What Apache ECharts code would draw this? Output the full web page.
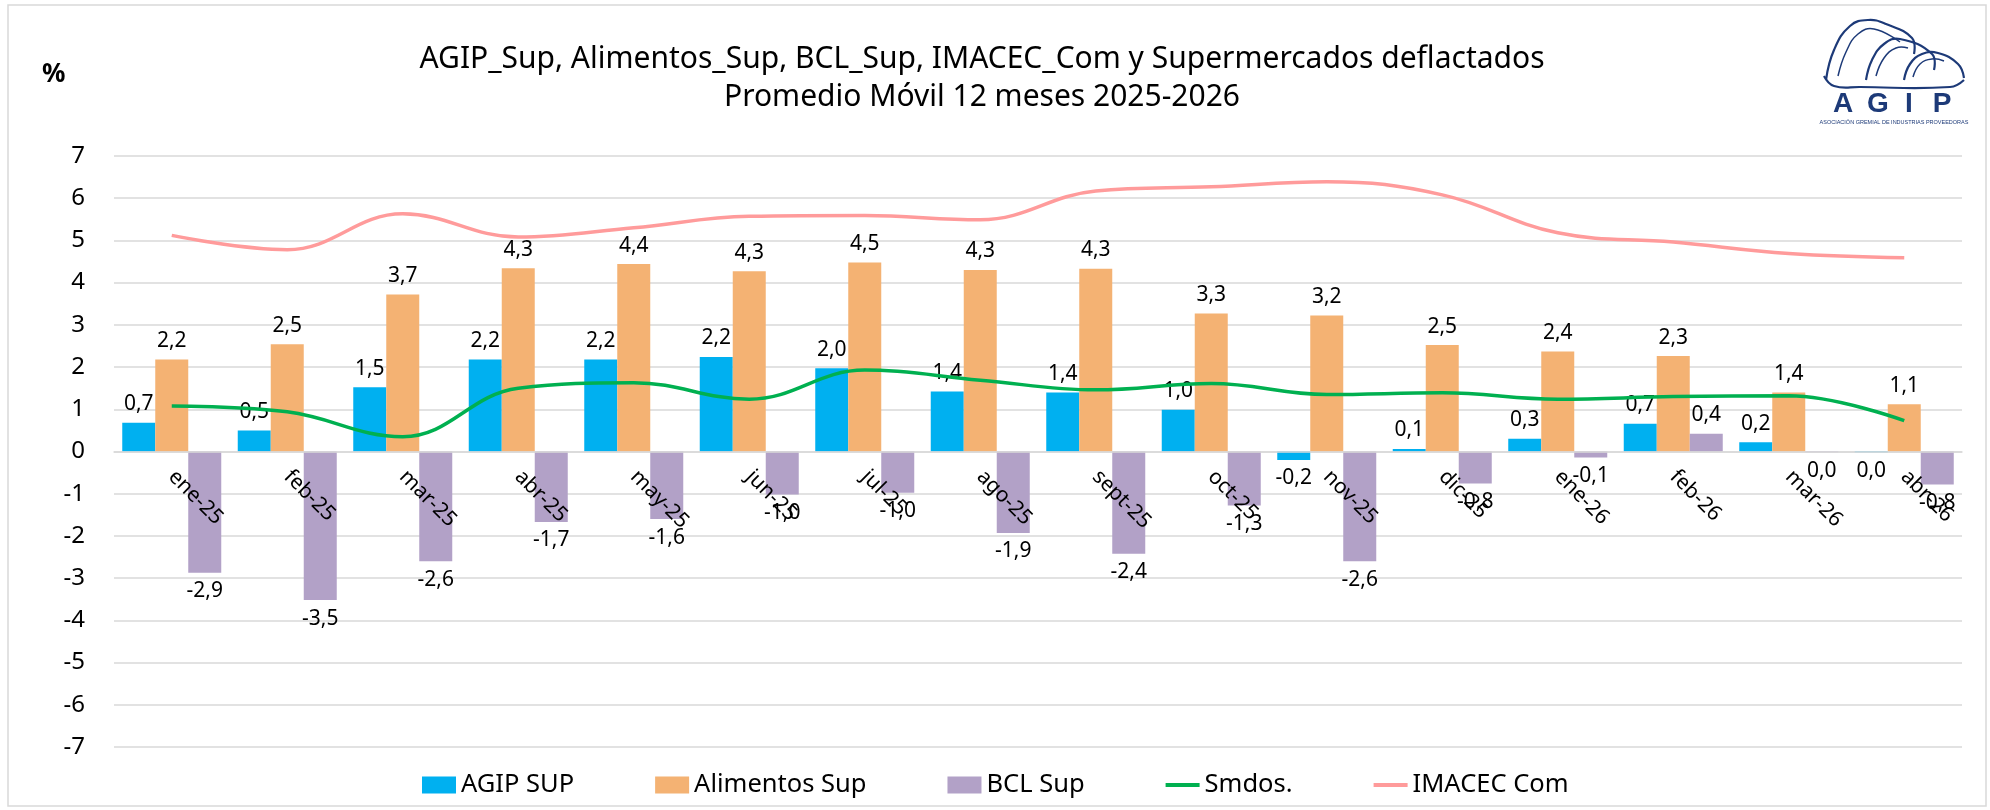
<!DOCTYPE html>
<html>
<head>
<meta charset="utf-8">
<script src="https://cdn.jsdelivr.net/npm/echarts@6/dist/echarts.min.js"></script>
<style>
  html, body { margin: 0; padding: 0; background: #fff; }
  #chart { width: 1990px; height: 810px; }
</style>
</head>
<body>
<div id="chart"></div>
<script>
// datos
const meses = ["ene-25", "feb-25", "mar-25", "abr-25", "may-25", "jun-25", "jul-25", "ago-25",
  "sept-25", "oct-25", "nov-25", "dic-25", "ene-26", "feb-26", "mar-26", "abr-26"];
const agipSup = [0.68, 0.5, 1.52, 2.18, 2.18, 2.24, 1.97, 1.42, 1.4, 0.99, -0.2, 0.06, 0.3, 0.66, 0.22, -0.02];
const alimentosSup = [2.18, 2.54, 3.72, 4.34, 4.44, 4.27, 4.48, 4.3, 4.33, 3.27, 3.22, 2.52, 2.37, 2.26, 1.4, 1.12];
const bclSup = [-2.87, -3.52, -2.6, -1.67, -1.6, -1.02, -0.98, -1.93, -2.42, -1.28, -2.6, -0.76, -0.14, 0.42, -0.02, -0.78];
const smdos = [1.08, 0.94, 0.35, 1.5, 1.63, 1.24, 1.93, 1.69, 1.46, 1.61, 1.35, 1.39, 1.24, 1.3, 1.32, 0.73];
const imacecCom = [5.12, 4.78, 5.63, 5.08, 5.3, 5.57, 5.59, 5.49, 6.17, 6.27, 6.39, 6.08, 5.18, 4.96, 4.69, 4.59];
const yTicks = { min: -7, max: 7, step: 1 };

const FONT = "'Noto Sans', 'Open Sans', sans-serif";

function fmt(v) {
  if (Math.abs(v) < 0.05) return "0,0";
  return v.toFixed(1).replace(".", ",");
}

function barData(arr) {
  return arr.map(v => ({
    value: v,
    label: { position: v < 0 ? "bottom" : "top" }
  }));
}

function barSerie(name, arr, color) {
  return {
    name: name,
    type: "bar",
    barWidth: 33,
    barGap: "0%",
    itemStyle: { color: color },
    label: {
      show: true,
      distance: 8,
      fontFamily: FONT,
      fontSize: 21,
      color: "#000",
      formatter: p => fmt(p.value)
    },
    z: 2,
    data: barData(arr)
  };
}

function lineSerie(name, arr, color) {
  return {
    name: name,
    type: "line",
    smooth: 0.4,
    symbol: "none",
    lineStyle: { color: color, width: 3.5 },
    itemStyle: { color: color },
    z: 5,
    data: arr
  };
}

const navy = "#1d3a78";
const LOGO_FONT = "'Liberation Sans', sans-serif";

function logoLine(points, w) {
  return { type: "polyline", shape: { points: points, smooth: 0.45 },
    style: { fill: null, stroke: navy, lineWidth: w }, silent: true };
}
function logoLetter(t, x) {
  return { type: "text", x: x, y: 104, silent: true,
    style: { text: t, font: "bold 28px " + LOGO_FONT, fill: navy, align: "center", verticalAlign: "middle" } };
}

const DASH = "path://M0,0 L34,0 L34,4 L0,4 Z";

const gridTop = 156, gridBottom = 63;
const zeroOffset = -(810 - gridTop - gridBottom) * (0 - yTicks.min) / (yTicks.max - yTicks.min);

const chart = echarts.init(document.getElementById("chart"));
const option = {
  backgroundColor: "#fff",
  animation: false,
  title: {
    text: "AGIP_Sup, Alimentos_Sup, BCL_Sup, IMACEC_Com y Supermercados deflactados\nPromedio Móvil 12 meses 2025-2026",
    left: 977,
    top: 35,
    textAlign: "center",
    textStyle: {
      fontFamily: FONT,
      fontWeight: "normal",
      fontSize: 30,
      lineHeight: 38,
      color: "#000"
    }
  },
  legend: {
    top: 767,
    left: 417,
    itemGap: 81,
    itemWidth: 34,
    itemHeight: 17,
    symbolKeepAspect: true,
    textStyle: { fontFamily: FONT, fontSize: 25.5, color: "#000" },
    data: [
      { name: "AGIP SUP", icon: "rect" },
      { name: "Alimentos Sup", icon: "rect" },
      { name: "BCL Sup", icon: "rect" },
      { name: "Smdos.", icon: DASH },
      { name: "IMACEC Com", icon: DASH }
    ]
  },
  grid: {
    left: 114,
    right: 28,
    top: gridTop,
    bottom: gridBottom,
    outerBoundsMode: "none"
  },
  xAxis: {
    type: "category",
    data: meses,
    z: 3,
    offset: zeroOffset,
    axisTick: { show: false },
    axisLine: { onZero: false, lineStyle: { color: "#d9d9d9", width: 1.5 } },
    axisLabel: {
      interval: 0,
      rotate: -45,
      margin: 22,
      fontFamily: FONT,
      fontSize: 21,
      color: "#000"
    }
  },
  yAxis: {
    type: "value",
    min: yTicks.min,
    max: yTicks.max,
    interval: yTicks.step,
    axisLine: { show: false },
    axisTick: { show: false },
    axisLabel: { margin: 29, fontFamily: FONT, fontSize: 24, color: "#000" },
    splitLine: { lineStyle: { color: "#d9d9d9", width: 1.5 } }
  },
  graphic: [
    {
      type: "rect",
      silent: true,
      z: -1,
      shape: { x: 8, y: 5, width: 1978, height: 801 },
      style: { fill: null, stroke: "#d9d9d9", lineWidth: 1.5 }
    },
    {
      type: "text",
      x: 42,
      y: 62,
      silent: true,
      style: { text: "%", font: "bold 26px " + FONT, fill: "#000" }
    },
    // logo AGIP (aproximado)
    logoLine([[1826, 80], [1834, 50], [1850, 26], [1868, 20], [1886, 24], [1912, 38], [1914, 54]], 2.2),
    logoLine([[1838, 76], [1846, 52], [1858, 34], [1874, 29], [1900, 42]], 1.5),
    logoLine([[1866, 80], [1872, 60], [1884, 44], [1900, 39], [1932, 54], [1934, 70]], 2.2),
    logoLine([[1876, 76], [1884, 58], [1896, 48], [1908, 48]], 1.5),
    logoLine([[1904, 80], [1910, 64], [1922, 54], [1938, 53], [1958, 64], [1964, 78]], 2.2),
    logoLine([[1913, 77], [1920, 64], [1932, 59], [1944, 61]], 1.5),
    logoLine([[1824, 76], [1834, 86], [1860, 87], [1950, 87], [1964, 80]], 2.2),
    logoLetter("A", 1843),
    logoLetter("G", 1878),
    logoLetter("I", 1909),
    logoLetter("P", 1942),
    {
      type: "text", x: 1894, y: 122, silent: true,
      style: { text: "ASOCIACIÓN GREMIAL DE INDUSTRIAS PROVEEDORAS", font: "5.5px " + LOGO_FONT,
        fill: navy, align: "center", verticalAlign: "middle" }
    }
  ],
  series: [
    barSerie("AGIP SUP", agipSup, "#00B0F0"),
    barSerie("Alimentos Sup", alimentosSup, "#F4B273"),
    barSerie("BCL Sup", bclSup, "#B2A1C7"),
    lineSerie("Smdos.", smdos, "#00B050"),
    lineSerie("IMACEC Com", imacecCom, "#FF9B9B")
  ]
};
chart.setOption(option);
</script>
</body>
</html>
